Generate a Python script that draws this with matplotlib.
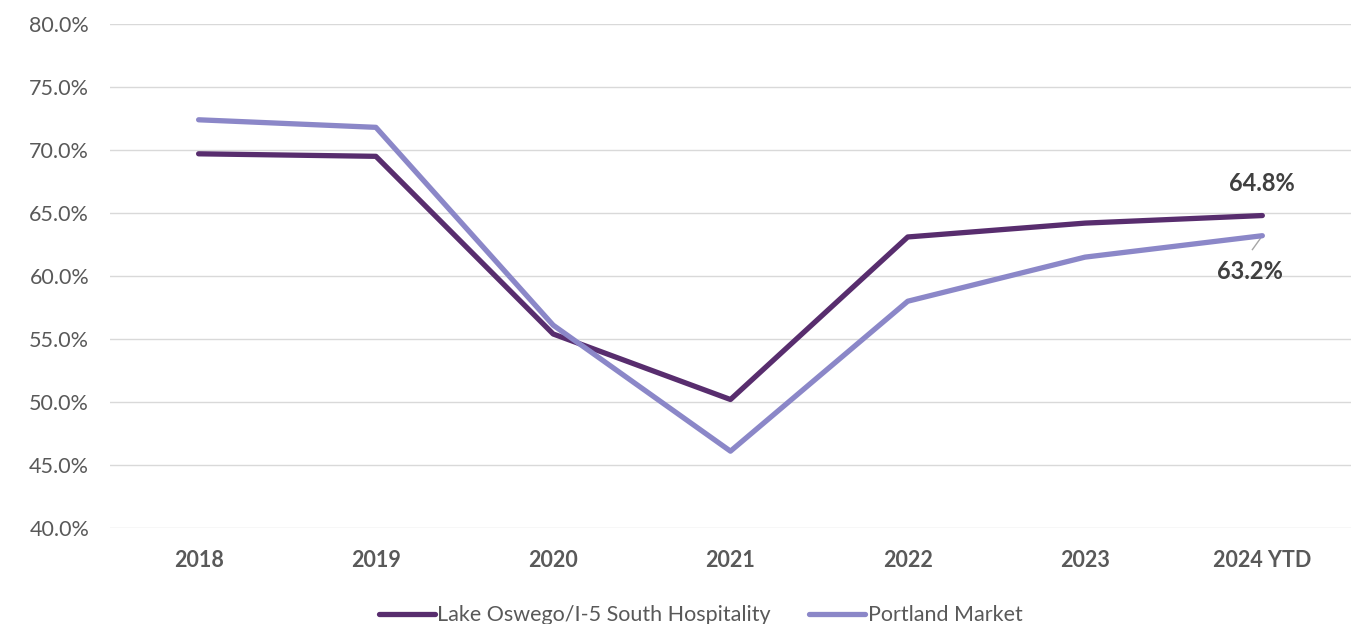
import matplotlib.pyplot as plt
from matplotlib.ticker import PercentFormatter

# occupancy by year
years = ["2018", "2019", "2020", "2021", "2022", "2023", "2024 YTD"]
lake_oswego = [69.7, 69.5, 55.4, 50.2, 63.1, 64.2, 64.8]
portland = [72.4, 71.8, 56.1, 46.1, 58.0, 61.5, 63.2]

plt.rcParams['font.family'] = ['Lato', 'DejaVu Sans']

fig = plt.figure(figsize=(13.66, 6.24), dpi=100)
ax = fig.add_axes([0.0805, 0.1538, 0.9085, 0.8077])

x = range(len(years))
ax.plot(x, lake_oswego, color="#582d6e", lw=3.8, solid_capstyle="round",
        label="Lake Oswego/I-5 South Hospitality", zorder=3)
ax.plot(x, portland, color="#8b87c8", lw=3.8, solid_capstyle="round",
        label="Portland Market", zorder=3)

ax.set_xlim(-0.5, len(years) - 0.5)
ax.set_ylim(40, 80)
ax.set_yticks(range(40, 81, 5))
ax.yaxis.set_major_formatter(PercentFormatter(decimals=1))
ax.set_xticks(list(x))
ax.set_xticklabels(years, fontweight="bold")
ax.tick_params(axis="both", length=0, labelsize=15.5, colors="#595959")
ax.tick_params(axis="x", pad=16)
ax.tick_params(axis="y", pad=15)
ax.grid(axis="y", color="#d9d9d9", lw=1)
for s in ax.spines.values():
    s.set_visible(False)

# end labels
last = len(years) - 1
ax.annotate(f"{lake_oswego[-1]:.1f}%", (last, lake_oswego[-1]), xytext=(0, 23),
            textcoords="offset points", ha="center", va="center",
            fontsize=17, fontweight="bold", color="#404040")
ax.annotate(f"{portland[-1]:.1f}%", (last, portland[-1]), xytext=(-9, -26),
            textcoords="offset points", ha="center", va="center",
            fontsize=17, fontweight="bold", color="#404040")
ax.plot([last - 0.056, last - 0.005], [portland[-1] - 1.1, portland[-1] - 0.1],
        color="#a6a6a6", lw=1)

ax.legend(loc="upper center", bbox_to_anchor=(0.476, -0.115), ncol=2, frameon=False,
          fontsize=15.5, labelcolor="#595959", handlelength=2.6, columnspacing=1.8,
          handletextpad=0.1)

fig.savefig("out.png", dpi=100)
